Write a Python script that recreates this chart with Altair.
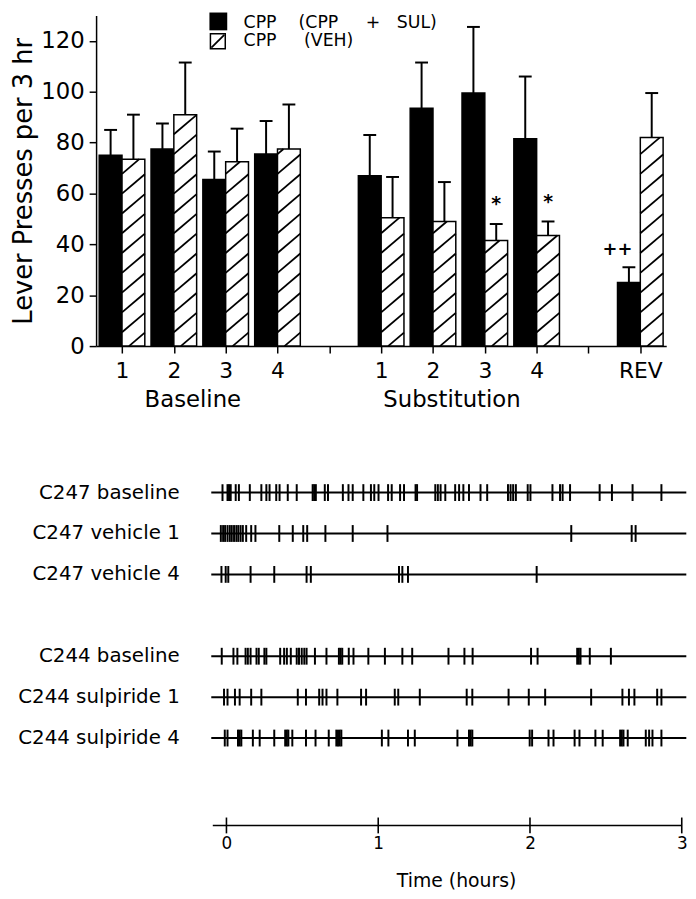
import json
import altair as alt
import pandas as pd

FONT = "DejaVu Sans"
NB = "\u00a0"

# ---------------- bar chart values ----------------
slots = [1, 2, 3, 4, 6, 7, 8, 9, 11]
slot_tick_labels = ["", "1", "2", "3", "4", "", "1", "2", "3", "4", "", "REV"]
slot_group = ["Baseline"] * 4 + ["Substitution"] * 4 + ["REV"]
series = ["CPP (CPP + SUL)", "CPP (VEH)"]
sul_mean = [75, 77.5, 65.5, 75.5, 67, 93.5, 99.5, 81.5, 25]
sul_top = [85, 87.5, 76.5, 88.5, 83, 111.5, 125.5, 106, 31]
veh_mean = [73.5, 91, 72.5, 77.5, 50.5, 49, 41.5, 43.5, 82]
veh_top = [91, 111.5, 85.5, 95, 66.5, 64.5, 48, 49, 99.5]
annot_slot = [8, 9, 11]
annot_series = [series[1], series[1], series[0]]
annot_text = ["*", "*", "++"]
group_names = ["Baseline", "Substitution"]
legend_text = ["CPP" + NB * 4 + "(CPP" + NB * 5 + "+" + NB * 3 + "SUL)",
               "CPP" + NB * 5 + "(VEH)"]
Y_TITLE = "Lever Presses per 3 hr"
T_TITLE = "Time (hours)"

# ---------------- event raster values (hours) ----------------
rows = ["C247 baseline", "C247 vehicle 1", "C247 vehicle 4",
        "C244 baseline", "C244 sulpiride 1", "C244 sulpiride 4"]
c247_baseline = [-0.026, 0.007, 0.017, 0.028, 0.061, 0.082, 0.154, 0.230, 0.263, 0.284,
                 0.328, 0.350, 0.404, 0.463, 0.568, 0.578, 0.589, 0.648, 0.669, 0.767,
                 0.804, 0.832, 0.902, 0.952, 0.974, 1.002, 1.065, 1.089, 1.144, 1.170,
                 1.246, 1.256, 1.376, 1.393, 1.411, 1.442, 1.507, 1.533, 1.561, 1.598,
                 1.674, 1.718, 1.855, 1.872, 1.889, 1.907, 1.985, 2.003, 2.148, 2.198,
                 2.215, 2.264, 2.459, 2.540, 2.676, 2.866]
c247_vehicle1 = [-0.037, -0.022, -0.009, 0.007, 0.022, 0.035, 0.050, 0.065, 0.078, 0.093,
                 0.108, 0.130, 0.163, 0.191, 0.348, 0.437, 0.506, 0.532, 0.652, 0.832,
                 1.061, 2.272, 2.670, 2.696]
c247_vehicle4 = [-0.033, -0.005, 0.012, 0.159, 0.315, 0.528, 0.556, 1.137, 1.159, 1.196,
                 2.044]
c244_baseline = [-0.031, 0.046, 0.072, 0.126, 0.141, 0.159, 0.198, 0.213, 0.250, 0.263,
                 0.354, 0.380, 0.398, 0.424, 0.463, 0.478, 0.496, 0.513, 0.528, 0.583,
                 0.659, 0.741, 0.752, 0.763, 0.806, 0.837, 0.935, 1.044, 1.159, 1.224,
                 1.463, 1.568, 1.622, 2.007, 2.050, 2.311, 2.322, 2.333, 2.394, 2.533]
c244_sulpiride1 = [-0.016, 0.007, 0.056, 0.087, 0.163, 0.230, 0.470, 0.524, 0.611, 0.633,
                   0.659, 0.731, 0.887, 0.920, 1.109, 1.132, 1.274, 1.583, 1.620, 1.859,
                   1.992, 2.100, 2.403, 2.609, 2.652, 2.688, 2.838, 2.866]
c244_sulpiride4 = [-0.011, 0.007, 0.076, 0.087, 0.098, 0.174, 0.219, 0.315, 0.387, 0.398,
                   0.408, 0.434, 0.524, 0.587, 0.674, 0.724, 0.735, 0.746, 0.757, 1.024,
                   1.067, 1.196, 1.241, 1.522, 1.598, 1.609, 1.620, 1.998, 2.014, 2.122,
                   2.155, 2.294, 2.326, 2.431, 2.479, 2.594, 2.605, 2.616, 2.644, 2.763,
                   2.785, 2.807, 2.866]
row_events = [c247_baseline, c247_vehicle1, c247_vehicle4,
              c244_baseline, c244_sulpiride1, c244_sulpiride4]
time_ticks = [0, 1, 2, 3]
record_start, record_end = -0.1, 3.03
axis_start, axis_end = -0.09, 3.0

# ---------------- layout constants ----------------
BAR_W, BAR_H = 576, 334
N_SLOTS = 11
Y_MAX = 130
HALF = 0.44
RASTER_W, RASTER_H = 596, 310
PX_PER_HOUR = 153.33
X_LEFT = -131.7 / PX_PER_HOUR
X_RIGHT = X_LEFT + RASTER_W / PX_PER_HOUR

# ---------------- tables ----------------
bars_df = pd.DataFrame({
    "slot": slots * 2,
    "series": [series[0]] * len(slots) + [series[1]] * len(slots),
    "mean": sul_mean + veh_mean,
    "top": sul_top + veh_top,
})

ann_top = [(veh_top if s == series[1] else sul_top)[slots.index(k)]
           for k, s in zip(annot_slot, annot_series)]
ann_df = pd.DataFrame({"slot": annot_slot, "series": annot_series,
                       "text": annot_text, "top": ann_top})

group_df = pd.DataFrame({
    "group": group_names,
    "center": [sum(s for s, g in zip(slots, slot_group) if g == name) /
               slot_group.count(name) for name in group_names],
})

# diagonal hatching of the VEH bars (texture derived from the bar values)
kx = BAR_W / N_SLOTS
ky = BAR_H / Y_MAX
STEP, SLOPE, PHASE = 20, 0.85, -6
hatch = []
for s, v in zip(slots, veh_mean):
    w = HALF * kx
    h = v * ky
    for k in range(-3, 60):
        c = k * STEP + PHASE
        if c > h:
            break
        xs = max(0.0, -c / SLOPE)
        xe = min(w, (h - c) / SLOPE)
        if xe - xs > 0.8:
            hatch.append({"x": s + xs / kx, "y": (c + SLOPE * xs) / ky,
                          "x2": s + xe / kx, "y2": (c + SLOPE * xe) / ky})
hatch_df = pd.DataFrame(hatch)

ev_df = pd.DataFrame([{"row": r, "t": t} for r, ev in zip(rows, row_events) for t in ev])
rows_df = pd.DataFrame({"row": rows})
ticks_df = pd.DataFrame({"t": time_ticks})
row_domain = rows[:3] + [" "] + rows[3:]

# ---------------- bar panel ----------------
xscale = alt.Scale(domain=[0.5, N_SLOTS + 0.5], nice=False, zero=False)
yscale = alt.Scale(domain=[0, Y_MAX], nice=False)
is_sul = "datum.series === " + json.dumps(series[0])
calc = dict(
    xl=f"datum.slot + ({is_sul} ? -{HALF} : 0)",
    xr=f"datum.slot + ({is_sul} ? 0 : {HALF})",
    xc=f"datum.slot + ({is_sul} ? -{HALF / 2} : {HALF / 2})",
)

x_axis = alt.Axis(values=list(range(1, N_SLOTS + 1)),
                  labelExpr=json.dumps(slot_tick_labels) + "[datum.value]",
                  tickSize=7, tickWidth=1.5, domainWidth=1.5, labelFontSize=22,
                  labelPadding=8, grid=False, labelFlush=False, labelOverlap=False,
                  title=None)
y_axis = alt.Axis(values=list(range(0, 121, 10)),
                  labelExpr="datum.value % 20 == 0 ? datum.label : ''",
                  tickSize=7, tickWidth=1.5, domainWidth=1.5, labelFontSize=23,
                  labelPadding=5, grid=False, labelOverlap=False, labelFlush=False,
                  title=Y_TITLE, titleFontSize=26,
                  titleFontWeight="normal", titlePadding=4)


def X(field):
    return alt.X(field, scale=xscale, title=None)


def Y(field):
    return alt.Y(field, scale=yscale, title=Y_TITLE)


base = alt.Chart(bars_df).transform_calculate(**calc)

bars = base.mark_rect(stroke="black", strokeWidth=1.5).encode(
    x=alt.X("xl:Q", scale=xscale, axis=x_axis),
    x2="xr:Q",
    y=alt.Y("mean:Q", scale=yscale, axis=y_axis),
    y2=alt.datum(0),
    fill=alt.Fill("series:N", scale=alt.Scale(domain=series, range=["black", "white"]),
                  legend=None),
)

hatch_lines = alt.Chart(hatch_df).mark_rule(color="black", strokeWidth=1.8).encode(
    x=X("x:Q"), x2="x2:Q", y=Y("y:Q"), y2="y2:Q",
)

err = base.mark_rule(color="black", strokeWidth=2).encode(
    x=X("xc:Q"), y=Y("mean:Q"), y2="top:Q",
)
caps = base.mark_tick(color="black", orient="horizontal", size=13, thickness=2,
                      opacity=1).encode(x=X("xc:Q"), y=Y("top:Q"))

ann = alt.Chart(ann_df).transform_calculate(**calc)
stars = ann.transform_filter("datum.text === '*'").mark_text(
    font=FONT, fontSize=19, fontWeight="bold", baseline="middle", dy=-20).encode(
    x=X("xc:Q"), y=Y("top:Q"), text="text:N")
plus = ann.transform_filter("datum.text === '++'").mark_text(
    font=FONT, fontSize=18, fontWeight="bold", baseline="middle", dy=-17).encode(
    x=X("xl:Q"), y=Y("top:Q"), text="text:N")

groups = alt.Chart(group_df).mark_text(
    font=FONT, fontSize=23, baseline="middle", dx=-7).encode(
    x=X("center:Q"), y=alt.value(BAR_H + 55), text="group:N")

one = alt.Data(values=[{}])
leg_black = alt.Chart(one).mark_square(size=324, color="black", opacity=1).encode(
    x=alt.value(123.5), y=alt.value(6))
leg_white = alt.Chart(one).mark_square(size=225, fill="white", stroke="black",
                                       strokeWidth=1.5, opacity=1, filled=True).encode(
    x=alt.value(123), y=alt.value(26))
leg_diag = alt.Chart(one).mark_rule(color="black", strokeWidth=1.8).encode(
    x=alt.value(116.5), y=alt.value(32.5), x2=alt.value(129.5), y2=alt.value(19.5))
leg_t1 = alt.Chart(one).mark_text(font=FONT, fontSize=17.5, align="left",
                                  baseline="middle").encode(
    x=alt.value(149), y=alt.value(7.5), text=alt.value(legend_text[0]))
leg_t2 = alt.Chart(one).mark_text(font=FONT, fontSize=17.5, align="left",
                                  baseline="middle").encode(
    x=alt.value(149), y=alt.value(26), text=alt.value(legend_text[1]))

bar_panel = alt.layer(bars, hatch_lines, err, caps, stars, plus, groups,
                      leg_black, leg_white, leg_diag, leg_t1, leg_t2
                      ).properties(width=BAR_W, height=BAR_H)

# ---------------- raster panel ----------------
tscale = alt.Scale(domain=[X_LEFT, X_RIGHT], nice=False, zero=False)
rscale = alt.Scale(domain=row_domain, padding=0.5)
t_axis = alt.Axis(values=time_ticks, format="d", offset=60, domain=False, ticks=False,
                  tickSize=0, labelFontSize=17, labelPadding=8, labelFlush=False,
                  labelOverlap=False, grid=False, title=T_TITLE,
                  titleFontSize=19, titleFontWeight="normal", titleX=363.7,
                  titlePadding=20)
r_axis = alt.Axis(title=None, domain=False, ticks=False, tickSize=0, offset=-90,
                  labelPadding=6, labelFontSize=20, labelOverlap=False)

row_lines = alt.Chart(rows_df).mark_rule(color="black", strokeWidth=2).encode(
    x=alt.X(datum=record_start, scale=tscale, axis=t_axis),
    x2=alt.X2(datum=record_end),
    y=alt.Y("row:N", scale=rscale, axis=r_axis, sort=row_domain),
)
events = alt.Chart(ev_df).mark_tick(color="black", orient="vertical", size=17,
                                    thickness=2, opacity=1).encode(
    x=alt.X("t:Q", scale=tscale, title=T_TITLE),
    y=alt.Y("row:N", scale=rscale, title=None, sort=row_domain),
)
time_line = alt.Chart(one).mark_rule(color="black", strokeWidth=1.6).encode(
    x=alt.X(datum=axis_start, scale=tscale, title=T_TITLE), x2=alt.X2(datum=axis_end),
    y=alt.value(367.3))
time_marks = alt.Chart(ticks_df).mark_tick(color="black", orient="vertical", size=16,
                                           thickness=1.6, opacity=1).encode(
    x=alt.X("t:Q", scale=tscale, title=T_TITLE), y=alt.value(367.3))

raster_panel = alt.layer(row_lines, events, time_line, time_marks).properties(
    width=RASTER_W, height=RASTER_H)

chart = alt.vconcat(bar_panel, raster_panel, spacing=117, bounds="flush").properties(
    padding={"left": 3, "top": 0, "right": 0, "bottom": 0}
).configure_view(stroke=None).configure_axis(
    labelColor="black", titleColor="black", domainColor="black", tickColor="black",
    labelFont=FONT, titleFont=FONT,
).configure_text(color="black")

chart.save("out.html", embed_options={"renderer": "svg", "actions": False})
